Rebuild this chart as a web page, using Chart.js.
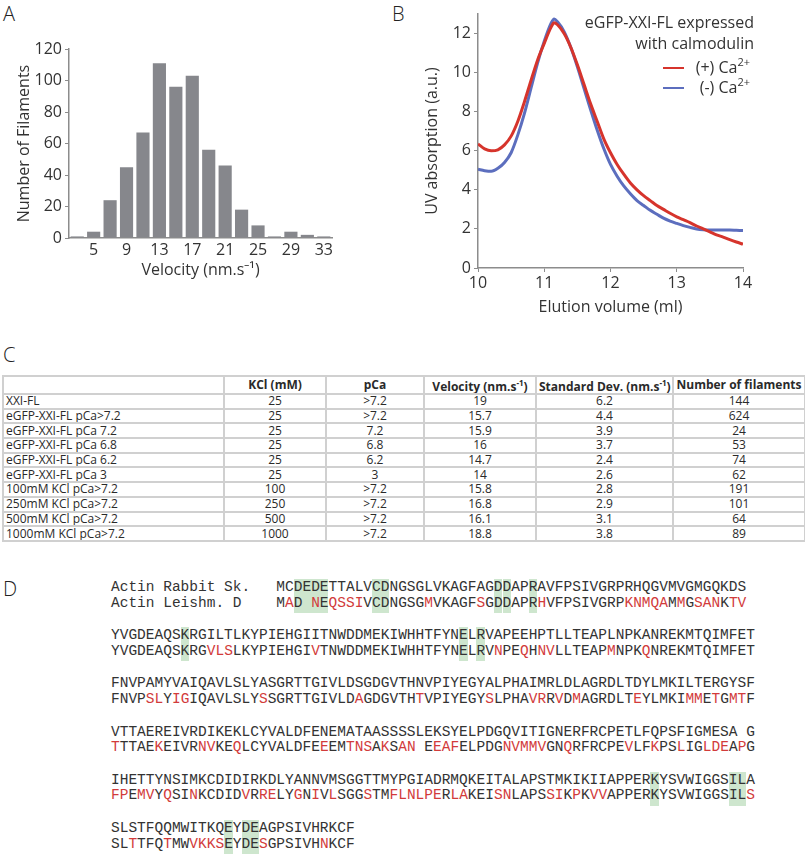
<!DOCTYPE html>
<html>
<head>
<meta charset="utf-8">
<script src="https://cdn.jsdelivr.net/npm/chart.js@4.4.0/dist/chart.umd.min.js"></script>
<style>
  body { margin: 0; width: 805px; height: 855px; background: #fff; position: relative; overflow: hidden;
         font-family: "Open Sans", sans-serif; color: #333; }
  .panel { position: absolute; font-size: 20px; font-weight: 300; color: #222; line-height: 1; }
  #wrapA { position: absolute; left: 0; top: 0; width: 345px; height: 290px; }
  #wrapB { position: absolute; left: 400px; top: 0; width: 405px; height: 320px; }
  table { position: absolute; left: 2px; top: 375px; width: 802px; border-collapse: collapse;
          table-layout: fixed; font-size: 12px; color: #2a2a2a; }
  td, th { border: 2px solid #d0d0d0; padding: 0 2px; height: 12.7px; line-height: 12px;
           text-align: center; white-space: nowrap; overflow: hidden; }
  th { font-weight: 700; height: 16px; }
  td.name { text-align: left; }
  .seq { position: absolute; left: 111px; font-family: "Liberation Mono", monospace; font-size: 14.5px;
         line-height: 15.5px; white-space: pre; color: #333; }
  .seq .mut { color: #d23b3b; }
  .hl { position: absolute; background: rgba(125, 190, 125, 0.38); }
</style>
</head>
<body>
<div class="panel" style="left:3px;top:4px">A</div>
<div class="panel" style="left:392px;top:4px">B</div>
<div class="panel" style="left:3px;top:345px">C</div>
<div class="panel" style="left:3px;top:579px">D</div>

<div id="wrapA"><canvas id="histA" width="345" height="290"></canvas></div>
<div id="wrapB"><canvas id="elutionB" width="405" height="320"></canvas></div>

<table id="velTable"></table>
<div id="seqArea"></div>

<script>
// ---- Panel A: velocity histogram ----
const velocityBins = [3, 5, 7, 9, 11, 13, 15, 17, 19, 21, 23, 25, 27, 29, 31, 33];
const filamentCounts = [1, 4, 24, 45, 67, 111, 96, 103, 56, 46, 18, 8, 1, 4, 2, 1];
const shownVelocityTicks = [5, 9, 13, 17, 21, 25, 29, 33];

// ---- Panel B: elution profiles ----
const elutionVolume = [10.0, 10.1, 10.2, 10.3, 10.4, 10.5, 10.6, 10.7, 10.8, 10.9, 11.0, 11.1, 11.15, 11.2, 11.3,
  11.4, 11.5, 11.6, 11.7, 11.8, 11.9, 12.0, 12.1, 12.2, 12.3, 12.4, 12.5, 12.6, 12.7, 12.8, 12.9,
  13.0, 13.1, 13.2, 13.3, 13.4, 13.5, 13.6, 13.7, 13.8, 13.9, 14.0];
const uvPlusCa = [6.35, 6.1, 6.0, 6.05, 6.3, 6.75, 7.5, 8.5, 9.6, 10.65, 11.5, 12.3, 12.55, 12.45, 12.0,
  11.3, 10.4, 9.4, 8.4, 7.5, 6.6, 5.9, 5.3, 4.8, 4.35, 4.0, 3.7, 3.45, 3.2, 3.0, 2.8,
  2.62, 2.47, 2.32, 2.15, 2.0, 1.85, 1.7, 1.58, 1.45, 1.33, 1.22];
const uvMinusCa = [5.05, 4.98, 4.95, 5.1, 5.4, 5.9, 6.8, 7.9, 9.2, 10.5, 11.6, 12.5, 12.75, 12.6, 12.1,
  11.3, 10.3, 9.2, 8.1, 7.05, 6.1, 5.3, 4.7, 4.2, 3.8, 3.45, 3.2, 2.95, 2.75, 2.55, 2.4,
  2.28, 2.17, 2.08, 2.0, 1.96, 1.95, 1.95, 1.94, 1.94, 1.93, 1.92];

// ---- Panel C: table ----
const conditionNames = ["XXI-FL", "eGFP-XXI-FL pCa>7.2", "eGFP-XXI-FL pCa 7.2", "eGFP-XXI-FL pCa 6.8",
  "eGFP-XXI-FL pCa 6.2", "eGFP-XXI-FL pCa 3", "100mM KCl pCa>7.2", "250mM KCl pCa>7.2",
  "500mM KCl pCa>7.2", "1000mM KCl pCa>7.2"];
const kclValues = ["25", "25", "25", "25", "25", "25", "100", "250", "500", "1000"];
const pcaValues = [">7.2", ">7.2", "7.2", "6.8", "6.2", "3", ">7.2", ">7.2", ">7.2", ">7.2"];
const velocityValues = ["19", "15.7", "15.9", "16", "14.7", "14", "15.8", "16.8", "16.1", "18.8"];
const stdDevValues = ["6.2", "4.4", "3.9", "3.7", "2.4", "2.6", "2.8", "2.9", "3.1", "3.8"];
const filamentNumbers = ["144", "624", "24", "53", "74", "62", "191", "101", "64", "89"];

// ---- Panel D: alignment ----
const rabbitLines = [
  "MCDEDETTALVCDNGSGLVKAGFAGDDAPRAVFPSIVGRPRHQGVMVGMGQKDS",
  "YVGDEAQSKRGILTLKYPIEHGIITNWDDMEKIWHHTFYNELRVAPEEHPTLLTEAPLNPKANREKMTQIMFET",
  "FNVPAMYVAIQAVLSLYASGRTTGIVLDSGDGVTHNVPIYEGYALPHAIMRLDLAGRDLTDYLMKILTERGYSF",
  "VTTAEREIVRDIKEKLCYVALDFENEMATAASSSSLEKSYELPDGQVITIGNERFRCPETLFQPSFIGMESA G",
  "IHETTYNSIMKCDIDIRKDLYANNVMSGGTTMYPGIADRMQKEITALAPSTMKIKIIAPPERKYSVWIGGSILA",
  "SLSTFQQMWITKQEYDEAGPSIVHRKCF"
];
const leishLines = [
  "MAD NEQSSIVCDNGSGMVKAGFSGDDAPRHVFPSIVGRPKNMQAMMGSANKTV",
  "YVGDEAQSKRGVLSLKYPIEHGIVTNWDDMEKIWHHTFYNELRVNPEQHNVLLTEAPMNPKQNREKMTQIMFET",
  "FNVPSLYIGIQAVLSLYSSGRTTGIVLDAGDGVTHTVPIYEGYSLPHAVRRVDMAGRDLTEYLMKIMMETGMTF",
  "TTTAEKEIVRNVKEQLCYVALDFEEEMTNSAKSAN EEAFELPDGNVMMVGNQRFRCPEVLFKPSLIGLDEAPG",
  "FPEMVYQSINKCDIDVRRELYGNIVLSGGSTMFLNLPERLAKEISNLAPSSIKPKVVAPPERKYSVWIGGSILS",
  "SLTTFQTMWVKKSEYDESGPSIVHNKCF"
];
const alsoMarkedRed = [[], [12], [], [46], [], [11]];
const greenColumns = [[2, 3, 4, 5, 11, 12, 25, 26, 29], [8, 40, 42], [], [], [62, 71, 72], [13, 15, 16]];

Chart.defaults.font.family = "'Open Sans', sans-serif";
Chart.defaults.color = "#333";
const axisGray = "#8c8c8c";

new Chart(document.getElementById("histA"), {
  type: "bar",
  data: {
    labels: velocityBins.map(String),
    datasets: [{ data: filamentCounts, backgroundColor: "rgb(134,135,140)",
      categoryPercentage: 1.0, barPercentage: 0.8 }]
  },
  options: {
    responsive: false, animation: false,
    layout: { padding: { top: 49, right: 13, left: 0, bottom: 0 } },
    plugins: { legend: { display: false }, tooltip: { enabled: false } },
    scales: {
      x: {
        grid: { display: false, drawTicks: false },
        border: { color: axisGray, width: 1.5 },
        ticks: { autoSkip: false, maxRotation: 0, padding: 3, font: { size: 16 }, color: "#333",
          callback: function (v, i) {
            return shownVelocityTicks.includes(velocityBins[i]) ? String(velocityBins[i]) : "";
          } },
        title: { display: true, text: "Velocity (nm.s\u207B\u00B9)", font: { size: 16 }, color: "#333",
          padding: { top: 0, bottom: 10 } },
        afterFit: function (s) { s.height = 52; }
      },
      y: {
        min: 0, max: 120,
        ticks: { stepSize: 20, font: { size: 16 }, color: "#333", padding: 3 },
        grid: { drawOnChartArea: false, drawTicks: true, tickLength: 4, color: axisGray },
        border: { color: axisGray, width: 1.5 },
        title: { display: true, text: "Number of Filaments", font: { size: 16 }, color: "#333",
          padding: { top: 15, bottom: 0 } },
        afterFit: function (s) { s.width = 69; }
      }
    }
  }
});

const redLine = "rgb(214,52,44)";
const blueLine = "rgb(92,110,190)";

const legendNote = {
  id: "legendNote",
  afterDraw(chart) {
    const ctx = chart.ctx;
    ctx.save();
    ctx.fillStyle = "#333";
    ctx.textBaseline = "middle";
    ctx.textAlign = "right";
    ctx.font = "16px 'Open Sans', sans-serif";
    ctx.fillText("eGFP-XXI-FL expressed", 354, 23);
    ctx.fillText("with calmodulin", 354, 44);
    const rows = [["(+) Ca", redLine, 68], ["(-) Ca", blueLine, 88]];
    rows.forEach(function (r) {
      ctx.font = "11px 'Open Sans', sans-serif";
      const w = ctx.measureText("2+").width;
      ctx.fillText("2+", 350, r[2] - 5);
      ctx.font = "16px 'Open Sans', sans-serif";
      ctx.fillText(r[0], 350 - w, r[2]);
      ctx.strokeStyle = r[1];
      ctx.lineWidth = 2;
      ctx.beginPath();
      ctx.moveTo(263, r[2]);
      ctx.lineTo(284, r[2]);
      ctx.stroke();
    });
    ctx.restore();
  }
};

new Chart(document.getElementById("elutionB"), {
  type: "line",
  data: {
    datasets: [
      { label: "(+) Ca2+", data: elutionVolume.map((x, i) => ({ x: x, y: uvPlusCa[i] })),
        borderColor: redLine, borderWidth: 3, pointRadius: 0, cubicInterpolationMode: "monotone" },
      { label: "(-) Ca2+", data: elutionVolume.map((x, i) => ({ x: x, y: uvMinusCa[i] })),
        borderColor: blueLine, borderWidth: 3, pointRadius: 0, cubicInterpolationMode: "monotone" }
    ]
  },
  options: {
    responsive: false, animation: false,
    layout: { padding: { top: 14, right: 62, left: 0, bottom: 0 } },
    plugins: { legend: { display: false }, tooltip: { enabled: false } },
    scales: {
      x: {
        type: "linear", min: 10, max: 14,
        ticks: { stepSize: 1, font: { size: 16 }, color: "#333", padding: 2 },
        grid: { drawOnChartArea: false, drawTicks: true, tickLength: 4, color: axisGray },
        border: { color: axisGray, width: 1.5 },
        title: { display: true, text: "Elution volume (ml)", font: { size: 16 }, color: "#333",
          padding: { top: 0, bottom: 3 } },
        afterFit: function (s) { s.height = 52; }
      },
      y: {
        min: 0, max: 13,
        ticks: { stepSize: 2, includeBounds: false, font: { size: 16 }, color: "#333", padding: 3 },
        grid: { drawOnChartArea: false, drawTicks: true, tickLength: 4, color: axisGray },
        border: { color: axisGray, width: 1.5 },
        title: { display: true, text: "UV absorption (a.u.)", font: { size: 16 }, color: "#333",
          padding: { top: 23, bottom: 0 } },
        afterFit: function (s) { s.width = 78; }
      }
    }
  },
  plugins: [legendNote]
});

// table
const table = document.getElementById("velTable");
const colWidths = [221, 102, 98, 112, 137, 132];
let html = "<colgroup>" + colWidths.map(w => '<col style="width:' + w + 'px">').join("") + "</colgroup>";
html += "<tr><th></th><th>KCl (mM)</th><th>pCa</th><th>Velocity (nm.s<sup style='font-size:8px'>-1</sup>)</th>" +
  "<th>Standard Dev. (nm.s<sup style='font-size:8px'>-1</sup>)</th><th>Number of filaments</th></tr>";
conditionNames.forEach(function (name, i) {
  html += "<tr><td class='name'>" + name.replace(">", "&gt;") + "</td><td>" + kclValues[i] + "</td><td>" +
    pcaValues[i].replace(">", "&gt;") + "</td><td>" + velocityValues[i] + "</td><td>" + stdDevValues[i] +
    "</td><td>" + filamentNumbers[i] + "</td></tr>";
});
table.innerHTML = html;

// alignment
const seqArea = document.getElementById("seqArea");
const charW = 14.5 * 0.6;
rabbitLines.forEach(function (rab, b) {
  const leish = leishLines[b];
  const prefix = b === 0 ? 19 : 0;
  const top = 580 + b * 48.2;
  greenColumns[b].forEach(function (c) {
    const d = document.createElement("div");
    d.className = "hl";
    d.style.left = (111 + (prefix + c) * charW) + "px";
    d.style.top = (top - 1) + "px";
    d.style.width = charW + "px";
    d.style.height = "34px";
    seqArea.appendChild(d);
  });
  let leishHtml = "";
  for (let k = 0; k < leish.length; k++) {
    const ch = leish[k];
    if (ch !== " " && (ch !== rab[k] || alsoMarkedRed[b].includes(k))) {
      leishHtml += '<span class="mut">' + ch + "</span>";
    } else {
      leishHtml += ch;
    }
  }
  const div = document.createElement("div");
  div.className = "seq";
  div.style.top = top + "px";
  const lab1 = b === 0 ? "Actin Rabbit Sk.   " : "";
  const lab2 = b === 0 ? "Actin Leishm. D    " : "";
  div.innerHTML = lab1 + rab + "\n" + lab2 + leishHtml;
  seqArea.appendChild(div);
});
</script>
</body>
</html>
